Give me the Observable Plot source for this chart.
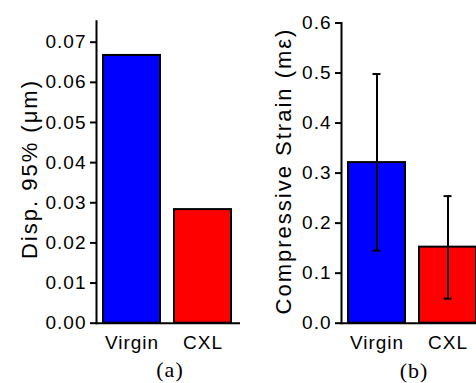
<!DOCTYPE html>
<html>
<head>
<meta charset="utf-8">
<script src="https://cdn.jsdelivr.net/npm/d3@7"></script>
<script src="https://cdn.jsdelivr.net/npm/@observablehq/plot@0.6"></script>
<style>
  html, body { margin: 0; padding: 0; background: #fff; }
  #wrap { position: relative; width: 476px; height: 383px; overflow: hidden; background: #fff; }
  .panel { position: absolute; top: 0; }
  .ytitle { position: absolute; white-space: nowrap; font-family: "Liberation Sans", Arial, sans-serif;
            font-size: 22px; line-height: 22px; letter-spacing: 2px; color: #000;
            transform: translate(-50%, -50%) rotate(-90deg); }
  .cap { position: absolute; white-space: nowrap; font-family: "Liberation Serif", "Times New Roman", serif;
         font-size: 22px; line-height: 22px; letter-spacing: 1px; color: #000; transform: translate(-50%, -50%); }
</style>
</head>
<body>
<div id="wrap"></div>
<script>
// ---- data ----
const categories = ["Virgin", "CXL"];
const barColors = ["#0000ff", "#ff0000"];
const dispValues = [0.0667, 0.0283];
const strainValues = [0.321, 0.152];
const strainLow = [0.145, 0.049];
const strainHigh = [0.498, 0.254];
const dispTicks = [0, 0.01, 0.02, 0.03, 0.04, 0.05, 0.06, 0.07];
const strainTicks = [0, 0.1, 0.2, 0.3, 0.4, 0.5, 0.6];
const dispTitle = "Disp. 95% (μm)";
const strainTitle = "Compressive Strain (mε)";
const captions = ["(a)", "(b)"];

const dispData = categories.map((c, i) => ({cat: c, value: dispValues[i], color: barColors[i]}));
const strainData = categories.map((c, i) => ({cat: c, value: strainValues[i], lo: strainLow[i], hi: strainHigh[i], color: barColors[i]}));

const wrap = document.getElementById("wrap");
const baseStyle = {background: "transparent", fontFamily: "'Liberation Sans', Arial, sans-serif", fontSize: "19px", letterSpacing: "1px", color: "black", overflow: "visible"};

function panel(data, opts) {
  const marks = [
    Plot.barY(data, {x: "cat", y: "value", fill: "color", stroke: "black", strokeWidth: 2}),
  ];
  if (opts.err) {
    marks.push(Plot.ruleX(data, {x: "cat", y1: "lo", y2: "hi", stroke: "black", strokeWidth: 2}));
    marks.push(Plot.tickY(data, {x: "cat", y: "lo", stroke: "black", strokeWidth: 2, insetLeft: 24.5, insetRight: 24.5}));
    marks.push(Plot.tickY(data, {x: "cat", y: "hi", stroke: "black", strokeWidth: 2, insetLeft: 24.5, insetRight: 24.5}));
  }
  marks.push(Plot.ruleY([0], {stroke: "black", strokeWidth: 2}));
  marks.push(Plot.frame({anchor: "left", stroke: "black", strokeWidth: 2}));
  marks.push(Plot.axisY({ticks: opts.ticks, tickFormat: d3.format(opts.fmt), tickSize: 6, tickPadding: 4, strokeWidth: 2, label: null, fontSize: 19}));
  marks.push(Plot.axisX({tickSize: 0, tickPadding: 12, label: null, fontSize: 19}));
  return Plot.plot({
    width: 240, height: 383,
    marginLeft: opts.axisX, marginRight: 0, marginTop: opts.top, marginBottom: 60.3,
    style: baseStyle,
    color: {type: "identity"},
    x: {domain: categories, range: [opts.axisX, opts.axisX + 142.3], paddingInner: 0.2, paddingOuter: 0.09},
    y: {domain: opts.domain},
    marks
  });
}

const a = panel(dispData, {axisX: 96, top: 20.7, domain: [0, 0.07523], ticks: dispTicks, fmt: ".2f"});
a.classList.add("panel"); a.style.left = "0px";
const b = panel(strainData, {axisX: 105, top: 22.5, domain: [0, 0.6], ticks: strainTicks, fmt: ".1f", err: true});
b.classList.add("panel"); b.style.left = "236px";
wrap.appendChild(a);
wrap.appendChild(b);

function addText(cls, text, x, y) {
  const d = document.createElement("div");
  d.className = cls; d.textContent = text;
  d.style.left = x + "px"; d.style.top = y + "px";
  wrap.appendChild(d);
}
addText("ytitle", dispTitle, 29.5, 169);
addText("ytitle", strainTitle, 284, 171);
addText("cap", captions[0], 170, 370);
addText("cap", captions[1], 414, 371);
</script>
</body>
</html>
